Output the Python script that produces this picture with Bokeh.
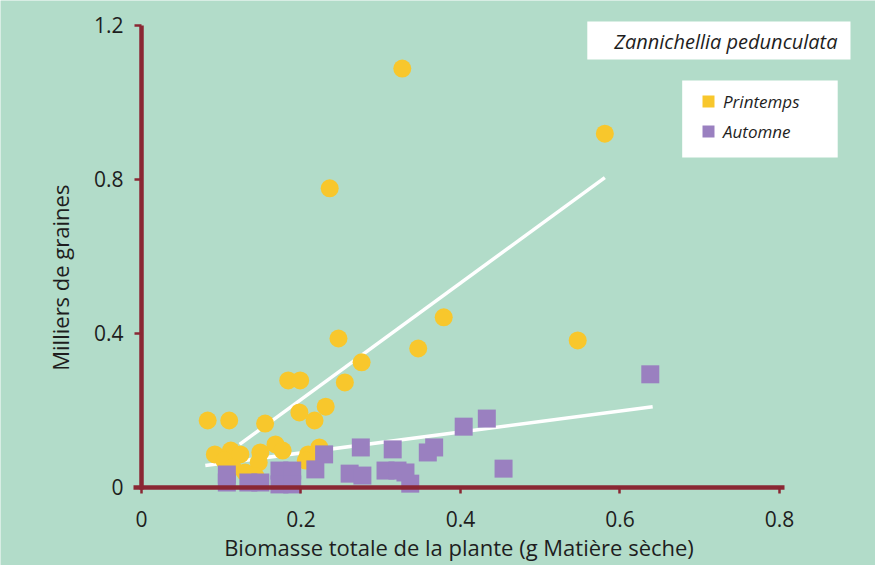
import math
from bokeh.plotting import figure
from bokeh.models import (Range1d, Legend, LegendItem, Label, FixedTicker, ColumnDataSource,
                          BoxAnnotation)
from bokeh.embed import file_html
from bokeh.resources import INLINE

# ---- data ----
spring_x = [0.327, 0.581, 0.236, 0.379, 0.247, 0.347, 0.547, 0.276, 0.184, 0.199,
            0.255, 0.083, 0.110, 0.155, 0.198, 0.231, 0.217, 0.092, 0.112, 0.104,
            0.124, 0.149, 0.168, 0.177, 0.147, 0.130, 0.143, 0.209, 0.223, 0.206, 0.114]
spring_y = [1.088, 0.919, 0.777, 0.442, 0.387, 0.361, 0.382, 0.325, 0.278, 0.278,
            0.273, 0.174, 0.174, 0.166, 0.195, 0.210, 0.174, 0.086, 0.096, 0.070,
            0.086, 0.091, 0.112, 0.096, 0.065, 0.039, 0.029, 0.086, 0.104, 0.070, 0.052]

autumn_x = [0.107, 0.107, 0.134, 0.149, 0.173, 0.189, 0.173, 0.189, 0.218, 0.229,
            0.275, 0.261, 0.277, 0.315, 0.306, 0.321, 0.331, 0.337, 0.359, 0.367,
            0.404, 0.433, 0.454, 0.638]
autumn_y = [0.034, 0.013, 0.013, 0.013, 0.044, 0.044, 0.008, 0.008, 0.047, 0.086,
            0.104, 0.036, 0.031, 0.099, 0.044, 0.044, 0.039, 0.010, 0.091, 0.104,
            0.158, 0.179, 0.049, 0.294]

spring_fit_x = [0.123, 0.581]
spring_fit_y = [0.112, 0.805]
autumn_fit_x = [0.080, 0.641]
autumn_fit_y = [0.057, 0.210]

x_ticks = [0, 0.2, 0.4, 0.6, 0.8]
x_tick_labels = ["0", "0.2", "0.4", "0.6", "0.8"]
y_ticks = [0, 0.4, 0.8, 1.2]
y_tick_labels = ["0", "0.4", "0.8", "1.2"]

series_names = ["Printemps", "Automne"]
chart_title = "Zannichellia pedunculata"
x_title = "Biomasse totale de la plante (g Matière sèche)"
y_title = "Milliers de graines"

# ---- style ----
BG = "#B2DCC9"
YELLOW = "#F8C72C"
PURPLE = "#9A80C0"
AXIS = "#8A2733"
TEXT = "#1E1E1E"
FONT = "Open Sans"

p = figure(width=875, height=565, output_backend="svg", toolbar_location=None,
           x_range=Range1d(-0.1768, 0.9204), y_range=Range1d(-0.2026, 1.2649),
           min_border_left=0, min_border_right=0, min_border_top=0, min_border_bottom=0)
p.background_fill_color = BG
p.border_fill_color = BG
p.outline_line_color = None
p.grid.visible = False

for ax, ticks, labels in ((p.xaxis, x_ticks, x_tick_labels), (p.yaxis, y_ticks, y_tick_labels)):
    ax.ticker = FixedTicker(ticks=ticks)
    ax.major_label_overrides = {t: l for t, l in zip(ticks, labels)}
    ax.fixed_location = 0
    ax.axis_line_color = AXIS
    ax.axis_line_width = 4.5
    ax.major_tick_line_color = AXIS
    ax.major_tick_line_width = 2.5
    ax.minor_tick_line_color = None
    ax.major_tick_in = 0
    ax.major_label_text_font = FONT
    ax.major_label_text_font_size = "21px"
    ax.major_label_text_color = TEXT
    ax.axis_label_text_font = FONT
    ax.axis_label_text_font_size = "22px"
    ax.axis_label_text_font_style = "normal"
    ax.axis_label_text_color = TEXT

p.xaxis.bounds = (-0.01, 0.806)
p.yaxis.bounds = (-0.005, 1.2)
p.xaxis.major_tick_out = 6
p.yaxis.major_tick_out = 7
p.xaxis.major_label_standoff = 18
p.yaxis.major_label_standoff = 11
p.xaxis.axis_label = x_title
p.xaxis.axis_label_standoff = 1

# y title as a rotated label, centred where the reference has it
p.add_layout(Label(x=-0.1016, y=0.545, text=y_title, angle=math.pi / 2,
                   text_align="center", text_baseline="middle",
                   text_font=FONT, text_font_size="22px", text_color=TEXT))

# regression lines
p.line(spring_fit_x, spring_fit_y, line_color="white", line_width=3.5)
p.line(autumn_fit_x, autumn_fit_y, line_color="white", line_width=3.5)

# points
src_s = ColumnDataSource(dict(x=spring_x, y=spring_y))
src_a = ColumnDataSource(dict(x=autumn_x, y=autumn_y))
p.scatter("x", "y", source=src_s, marker="circle", size=18, fill_color=YELLOW, line_color=None)
p.scatter("x", "y", source=src_a, marker="square", size=18, fill_color=PURPLE, line_color=None)

# legend keys: square swatches (zero size on the plot, drawn only in the legend)
key_s = p.scatter("x", "y", source=src_s, marker="square", size=0,
                  fill_color=YELLOW, line_color=None)
key_a = p.scatter("x", "y", source=src_a, marker="square", size=0,
                  fill_color=PURPLE, line_color=None)

# white panel behind the legend (data coordinates)
p.add_layout(BoxAnnotation(left=0.678, right=0.873, bottom=0.857, top=1.057,
                           fill_color="white", fill_alpha=1.0, line_color=None))

legend = Legend(items=[LegendItem(label=series_names[0], renderers=[key_s]),
                       LegendItem(label=series_names[1], renderers=[key_a])],
                location=(693, 419), orientation="vertical",
                glyph_width=30, glyph_height=30, label_height=28, label_width=90,
                label_standoff=0, spacing=0, padding=0, margin=0,
                label_text_font=FONT, label_text_font_size="17px",
                label_text_font_style="italic", label_text_color=TEXT,
                background_fill_alpha=0.0, border_line_color=None)
p.add_layout(legend, "center")

title_label = Label(x=0.559, y=1.161, text=chart_title, text_baseline="middle",
                    text_font=FONT, text_font_size="20px", text_font_style="italic",
                    text_color=TEXT, background_fill_color="white",
                    padding=dict(left=27, right=13, top=6, bottom=5))
p.add_layout(title_label)

open("out.html", "w").write(file_html(p, INLINE))
